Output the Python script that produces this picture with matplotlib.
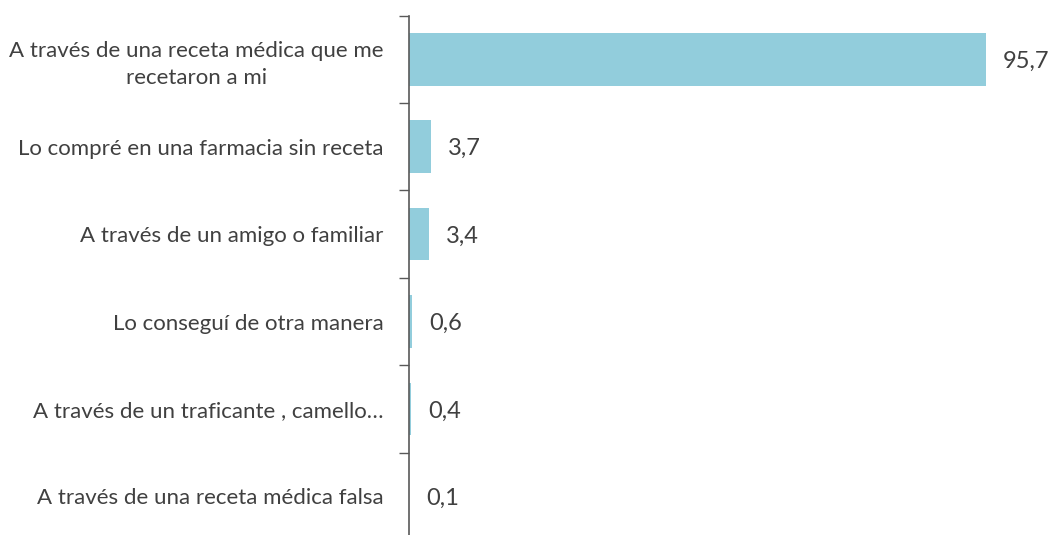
import matplotlib
matplotlib.use("Agg")
import matplotlib.pyplot as plt

categories = [
    "A través de una receta médica que me\nrecetaron a mi",
    "Lo compré en una farmacia sin receta",
    "A través de un amigo o familiar",
    "Lo conseguí de otra manera",
    "A través de un traficante , camello…",
    "A través de una receta médica falsa",
]
values = [95.7, 3.7, 3.4, 0.6, 0.4, 0.1]
value_labels = ["95,7", "3,7", "3,4", "0,6", "0,4", "0,1"]

plt.rcParams['font.family'] = ['Lato', 'DejaVu Sans']
text_color = '#404040'

fig = plt.figure(figsize=(10.51, 5.35), dpi=100)
top_px = 15.6
step = 87.4
n = len(categories)
ax_h = step * n
ax = fig.add_axes([408.5 / 1051, 1 - (top_px + ax_h) / 535, 603.5 / 1051, ax_h / 535])

ypos = list(range(n))
ax.barh(ypos, values, height=0.6, color='#92CDDC')
ax.set_ylim(n - 0.5, -0.5)
ax.set_xlim(0, 100)

for y, v, lab in zip(ypos, values, value_labels):
    ax.annotate(lab, (v, y), xytext=(17, -2), textcoords='offset pixels',
                va='center', ha='left', fontsize=17, color=text_color)

ax.set_yticks([i + 0.5 for i in range(-1, n)], minor=False)
ax.set_yticklabels([''] * (n + 1))
ax.set_yticks(ypos, minor=True)
ax.set_yticklabels(categories, minor=True, fontsize=16, color=text_color,
                   multialignment='center', linespacing=1.4)
ax.tick_params(axis='y', which='major', length=7, width=1, color='#595959', direction='out')
ax.tick_params(axis='y', which='minor', length=0, pad=18)
ax.set_xticks([])
for s in ['top', 'right', 'bottom']:
    ax.spines[s].set_visible(False)
ax.spines['left'].set_color('#595959')
ax.spines['left'].set_linewidth(1.2)

fig.savefig('out.png', dpi=100)
